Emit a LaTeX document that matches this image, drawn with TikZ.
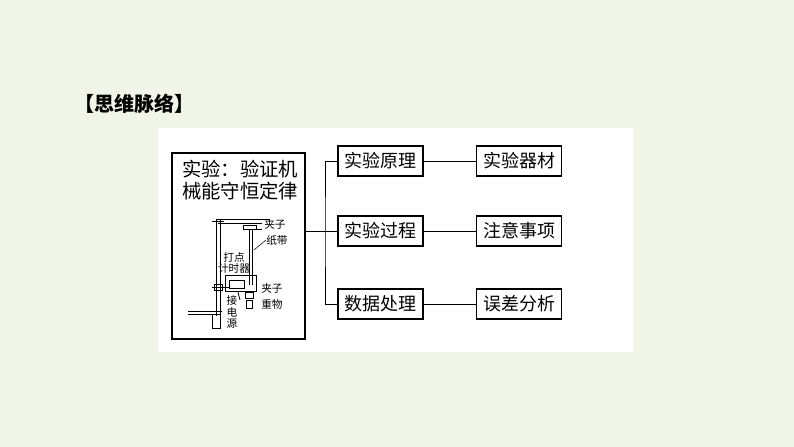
\documentclass[tikz,border=0pt]{standalone}
\usepackage{fontspec}
\newfontfamily\cjk{Noto Sans CJK SC}
\definecolor{bg}{RGB}{240,245,232}
\begin{document}
\begin{tikzpicture}[x=0.75pt,y=-0.75pt,
  sm/.style={font=\cjk\fontsize{8}{8.5}\selectfont,inner sep=0pt},
  ln/.style={line width=0.6pt}]
\fill[bg] (0,0) rectangle (794,447);
\useasboundingbox (0,0) rectangle (794,447);
\fill[white] (158,128) rectangle (633,352);
\node[font=\cjk\bfseries\fontsize{15}{17}\selectfont,anchor=west] (title) at (70,104) {【思维脉络】};
\draw[line width=0.9pt] (172,153) rectangle (305,339);
\coordinate (mr) at (305,231);
\node[font=\cjk\fontsize{14.5}{17}\selectfont,align=center,inner sep=0pt] (mt) at (240,180) {实验：验证机\\械能守恒定律};
\foreach \n/\t/\x/\y in {a/实验原理/380.5/161,b/实验器材/519/161,c/实验过程/380.5/231,d/注意事项/519/231,e/数据处理/380.5/304,f/误差分析/519/304}
  \node[draw,line width=0.9pt,minimum width=85*0.75pt,minimum height=30*0.75pt,inner sep=0pt,font=\cjk\fontsize{13.5}{15}\selectfont] (\n) at (\x,\y) {\t};
\coordinate (j) at (325,231);
\draw[ln] (mr) -- (j);
\draw[ln] (a.west) -| (j) |- (e.west);
\draw[ln] (j) -- (c.west);
\draw[ln] (a) -- (b); \draw[ln] (c) -- (d); \draw[ln] (e) -- (f);
% apparatus
\begin{scope}[line width=0.6pt]
\draw (216,219) -- (216,316); \draw (220,219) -- (220,316);
\draw (216,219) -- (270,219); \draw (218,223) -- (262,223);
\draw (212,221) -- (224,221);
\draw (243,225) rectangle (256,229);
\draw (249,229) -- (249,285); \draw (252,229) -- (252,285);
\draw (225,275) rectangle (256,291);
\draw (229,280) rectangle (244,288);
\draw (212,287) -- (230,287); \draw (214,284) rectangle (222,290);
\draw (245,292) rectangle (253,298);
\draw (246,300) rectangle (252,308);
\draw (256,229) -- (262,229);
\draw (188,311) -- (222,311); \draw (188,314) -- (214,314);
\draw (212,314) rectangle (220,328);
\draw (238,292) -- (240,300);
\end{scope}
\node[sm,anchor=west] (l1) at (264,224) {夹子};
\node[sm,anchor=west] (l2) at (266,240) {纸带};
\draw[line width=0.4pt] (l2.west) -- (254,250);
\node[sm,align=center] (l3) at (234,263) {打点\\计时器};
\node[sm,anchor=west] (l4) at (261,288) {夹子};
\node[sm,anchor=west] (l5) at (261,304) {重物};
\node[sm,align=center] (l6) at (232,312) {接\\电\\源};
\end{tikzpicture}
\end{document}
